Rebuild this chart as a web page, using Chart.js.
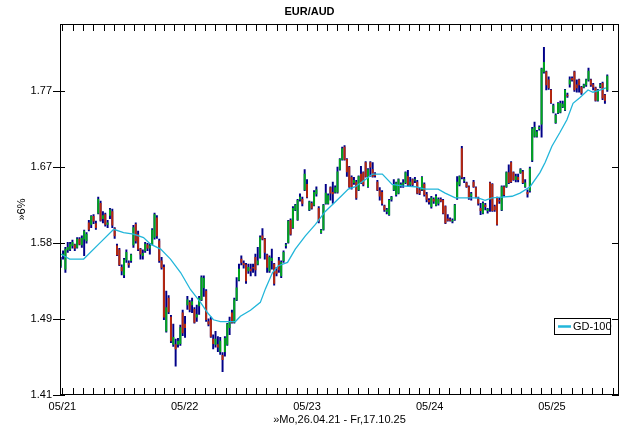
<!DOCTYPE html>
<html>
<head>
<meta charset="utf-8">
<script src="https://cdn.jsdelivr.net/npm/chart.js@4.4.1/dist/chart.umd.min.js"></script>
<style>
body { margin: 0; background: #fff; }
#wrap { width: 630px; height: 430px; }
</style>
</head>
<body>
<div id="wrap"><canvas id="fxChart" width="630" height="430"></canvas></div>
<script>
// weekly EUR/AUD bars, first week starts Mo 26.04.21
const opens = [1.552,1.565,1.548,1.571,1.572,1.576,1.577,1.574,1.584,1.577,1.584,1.582,1.604,1.602,1.612,1.603,1.616,1.628,1.609,1.614,
1.602,1.613,1.618,1.597,1.576,1.571,1.550,1.541,1.559,1.555,1.558,1.577,1.602,1.590,1.572,1.564,1.570,1.577,1.573,1.578,
1.586,1.610,1.582,1.558,1.550,1.476,1.514,1.492,1.461,1.461,1.461,1.462,1.497,1.484,1.506,1.509,1.506,1.501,1.492,1.505,
1.512,1.526,1.522,1.487,1.489,1.467,1.461,1.461,1.453,1.449,1.453,1.461,1.480,1.497,1.486,1.512,1.535,1.560,1.555,1.553,
1.546,1.548,1.550,1.562,1.554,1.562,1.588,1.584,1.565,1.546,1.558,1.554,1.546,1.558,1.540,1.558,1.576,1.580,1.607,1.598,
1.620,1.608,1.633,1.633,1.645,1.652,1.620,1.628,1.626,1.640,1.622,1.592,1.596,1.628,1.628,1.648,1.642,1.642,1.642,1.671,
1.684,1.700,1.684,1.674,1.661,1.654,1.655,1.645,1.665,1.667,1.680,1.649,1.680,1.671,1.665,1.655,1.644,1.642,1.625,1.618,
1.614,1.633,1.645,1.639,1.641,1.650,1.652,1.654,1.662,1.652,1.658,1.657,1.655,1.645,1.645,1.652,1.639,1.632,1.624,1.633,
1.626,1.628,1.633,1.632,1.624,1.609,1.608,1.606,1.608,1.635,1.652,1.698,1.657,1.654,1.649,1.637,1.655,1.648,1.633,1.622,
1.616,1.626,1.619,1.654,1.652,1.624,1.635,1.632,1.620,1.649,1.649,1.667,1.680,1.667,1.658,1.661,1.667,1.668,1.649,1.642,
1.644,1.683,1.714,1.714,1.724,1.730,1.801,1.801,1.790,1.776,1.746,1.732,1.745,1.746,1.753,1.749,1.769,1.784,1.792,1.801,
1.783,1.790,1.780,1.780,1.783,1.790,1.790,1.783,1.779,1.762,1.781,1.785,1.769,1.776];
const highs = [1.562,1.570,1.574,1.580,1.580,1.583,1.578,1.586,1.586,1.588,1.595,1.592,1.607,1.613,1.614,1.606,1.636,1.631,1.618,1.616,
1.607,1.622,1.621,1.598,1.578,1.573,1.553,1.561,1.571,1.558,1.566,1.601,1.604,1.594,1.573,1.571,1.580,1.579,1.579,1.597,
1.616,1.613,1.584,1.562,1.553,1.522,1.517,1.494,1.484,1.467,1.468,1.483,1.500,1.493,1.516,1.511,1.514,1.503,1.506,1.516,
1.540,1.540,1.524,1.490,1.492,1.472,1.476,1.470,1.469,1.452,1.470,1.485,1.492,1.500,1.514,1.538,1.554,1.564,1.558,1.555,
1.554,1.554,1.554,1.566,1.574,1.588,1.597,1.585,1.566,1.564,1.572,1.555,1.550,1.562,1.558,1.570,1.579,1.607,1.609,1.624,
1.627,1.633,1.640,1.636,1.671,1.658,1.631,1.630,1.644,1.649,1.624,1.596,1.627,1.652,1.640,1.649,1.655,1.650,1.674,1.685,
1.700,1.702,1.685,1.675,1.663,1.661,1.657,1.663,1.675,1.668,1.681,1.672,1.681,1.680,1.667,1.657,1.648,1.644,1.626,1.622,
1.633,1.637,1.658,1.655,1.659,1.654,1.658,1.668,1.670,1.661,1.659,1.661,1.657,1.648,1.662,1.654,1.642,1.634,1.637,1.635,
1.639,1.635,1.635,1.633,1.625,1.614,1.610,1.609,1.627,1.662,1.663,1.701,1.661,1.655,1.650,1.642,1.657,1.649,1.636,1.628,
1.630,1.628,1.622,1.655,1.653,1.626,1.636,1.635,1.650,1.650,1.668,1.677,1.681,1.668,1.665,1.665,1.672,1.670,1.658,1.645,
1.674,1.726,1.733,1.722,1.728,1.806,1.835,1.802,1.794,1.777,1.757,1.744,1.759,1.761,1.761,1.777,1.772,1.794,1.794,1.802,
1.790,1.791,1.781,1.784,1.791,1.806,1.791,1.785,1.780,1.777,1.785,1.787,1.770,1.797];
const lows = [1.550,1.560,1.544,1.568,1.570,1.573,1.570,1.573,1.577,1.574,1.564,1.579,1.594,1.598,1.603,1.596,1.615,1.606,1.604,1.600,
1.598,1.609,1.598,1.585,1.564,1.552,1.541,1.538,1.556,1.550,1.556,1.574,1.579,1.570,1.560,1.560,1.568,1.570,1.566,1.577,
1.584,1.585,1.556,1.548,1.489,1.475,1.496,1.463,1.459,1.437,1.458,1.460,1.471,1.469,1.501,1.498,1.497,1.485,1.487,1.495,
1.511,1.516,1.487,1.482,1.469,1.456,1.458,1.453,1.450,1.431,1.448,1.460,1.472,1.485,1.485,1.511,1.534,1.553,1.549,1.531,
1.543,1.540,1.544,1.540,1.553,1.561,1.583,1.560,1.544,1.544,1.548,1.529,1.540,1.544,1.538,1.556,1.573,1.579,1.589,1.597,
1.619,1.607,1.631,1.625,1.644,1.635,1.619,1.621,1.625,1.637,1.604,1.591,1.595,1.627,1.627,1.632,1.628,1.641,1.641,1.670,
1.683,1.683,1.662,1.648,1.646,1.652,1.633,1.644,1.653,1.650,1.661,1.648,1.662,1.661,1.661,1.644,1.632,1.626,1.618,1.615,
1.613,1.631,1.644,1.637,1.640,1.648,1.648,1.653,1.650,1.650,1.650,1.654,1.640,1.639,1.644,1.637,1.630,1.627,1.622,1.628,
1.625,1.626,1.630,1.615,1.603,1.606,1.606,1.604,1.607,1.633,1.650,1.659,1.654,1.648,1.633,1.632,1.648,1.635,1.626,1.614,
1.615,1.620,1.616,1.618,1.618,1.618,1.601,1.628,1.619,1.637,1.648,1.653,1.654,1.657,1.655,1.655,1.666,1.653,1.648,1.636,
1.642,1.681,1.713,1.713,1.722,1.713,1.799,1.776,1.777,1.758,1.745,1.731,1.744,1.745,1.752,1.748,1.766,1.780,1.788,1.774,
1.773,1.773,1.770,1.779,1.781,1.788,1.781,1.776,1.761,1.761,1.779,1.763,1.758,1.774];
const closes = [1.559,1.566,1.572,1.574,1.578,1.580,1.573,1.584,1.578,1.585,1.594,1.590,1.596,1.612,1.606,1.598,1.633,1.607,1.613,1.602,
1.604,1.620,1.601,1.588,1.565,1.553,1.546,1.559,1.568,1.553,1.565,1.598,1.582,1.572,1.566,1.567,1.578,1.573,1.576,1.595,
1.614,1.588,1.558,1.550,1.492,1.503,1.498,1.465,1.469,1.456,1.465,1.480,1.474,1.480,1.512,1.501,1.510,1.486,1.495,1.514,
1.538,1.537,1.489,1.484,1.470,1.462,1.467,1.458,1.465,1.444,1.468,1.484,1.487,1.486,1.512,1.526,1.548,1.556,1.553,1.534,
1.550,1.546,1.549,1.547,1.558,1.586,1.584,1.568,1.550,1.562,1.561,1.531,1.543,1.547,1.556,1.568,1.577,1.606,1.590,1.622,
1.626,1.632,1.636,1.628,1.665,1.636,1.630,1.622,1.642,1.645,1.606,1.595,1.626,1.641,1.638,1.641,1.640,1.648,1.668,1.684,
1.698,1.684,1.668,1.649,1.649,1.657,1.635,1.662,1.654,1.652,1.662,1.671,1.674,1.662,1.663,1.645,1.637,1.628,1.620,1.620,
1.632,1.636,1.652,1.654,1.658,1.652,1.654,1.667,1.652,1.655,1.652,1.658,1.641,1.641,1.661,1.639,1.633,1.630,1.635,1.631,
1.637,1.633,1.631,1.616,1.604,1.607,1.607,1.607,1.626,1.655,1.662,1.661,1.658,1.649,1.635,1.640,1.649,1.636,1.628,1.619,
1.628,1.624,1.621,1.633,1.619,1.620,1.602,1.631,1.649,1.639,1.667,1.654,1.655,1.658,1.662,1.658,1.671,1.654,1.654,1.640,
1.672,1.724,1.726,1.720,1.726,1.805,1.814,1.783,1.779,1.759,1.755,1.742,1.758,1.758,1.757,1.776,1.768,1.790,1.790,1.776,
1.779,1.783,1.772,1.783,1.790,1.802,1.783,1.780,1.762,1.776,1.783,1.765,1.762,1.795];

// GD-100 (week index, price)
const maWeeks = [0,3.8,9.8,16.2,22.6,26.8,31.1,35.3,38.3,42.6,46.8,51.1,55.3,59.6,62.6,65.1,68.1,74.5,76.6,80.9,
85.1,87.3,90.3,92.8,96.7,100,104.3,108.6,112.8,119.2,122.6,125.6,129.8,132.8,137.1,141.3,145.6,151.1,155.4,160.9,
163.9,168.2,177.9,180.9,183.9,188.2,192.4,195.8,200.1,204.3,206.5,209.4,212.8,215.8,218.4,221.4,224.8,226.9,229.9,232.4];
const maValues = [1.566,1.560,1.560,1.578,1.596,1.592,1.590,1.586,1.578,1.572,1.560,1.544,1.524,1.509,1.497,1.489,1.487,1.487,1.493,1.500,
1.509,1.525,1.544,1.552,1.556,1.572,1.588,1.602,1.618,1.636,1.646,1.649,1.658,1.665,1.665,1.652,1.650,1.649,1.646,1.646,
1.641,1.635,1.635,1.632,1.635,1.636,1.637,1.641,1.649,1.667,1.680,1.701,1.719,1.736,1.758,1.766,1.776,1.773,1.776,1.779];

const tickLabels = ['05/21', '05/22', '05/23', '05/24', '05/25'];
const yTickValues = [1.4055, 1.4898, 1.5792, 1.6739, 1.7744];

const startDay = Date.UTC(2021, 3, 26);
const weekMs = 7 * 86400000;
function weekOf(yr, mon) { return (Date.UTC(yr, mon, 1) - startDay) / weekMs; }

const xMin = -0.3, xMax = 238;
const tickWeeks = tickLabels.map(l => weekOf(2000 + Number(l.slice(3)), Number(l.slice(0, 2)) - 1));
const monthWeeks = [];
for (let k = 0; k < 60; k++) {
    const w = weekOf(2021, 4 + k);
    if (w > xMin && w < xMax) monthWeeks.push(w);
}

const font = { family: "'Liberation Sans', Arial, sans-serif", size: 11 };
const upColor = '#00a81c';
const downColor = '#b8280c';
const wickColor = '#000088';
const maColor = '#22b6da';

const bodies = opens.map((o, i) => ({ x: i, y: [Math.min(o, closes[i]), Math.max(o, closes[i])] }));
const ranges = lows.map((l, i) => ({ x: i, y: [l, highs[i]] }));
const bodyColors = opens.map((o, i) => closes[i] >= o ? upColor : downColor);

const frameTicks = {
    id: 'frameTicks',
    afterDraw(chart) {
        const ctx = chart.ctx;
        const a = chart.chartArea;
        const xs = chart.scales.x, ys = chart.scales.y;
        const L = Math.round(a.left), R = Math.round(a.right) - 1;
        const T = Math.round(a.top), B = Math.round(a.bottom) - 1;
        ctx.save();
        ctx.fillStyle = '#000';
        ctx.fillRect(L, T, R - L + 1, 1);
        ctx.fillRect(L, B, R - L + 1, 1);
        ctx.fillRect(L, T, 1, B - T + 1);
        ctx.fillRect(R, T, 1, B - T + 1);
        for (const v of yTickValues) {
            const py = Math.round(ys.getPixelForValue(v));
            ctx.fillRect(L, py, 5, 1);
            ctx.fillRect(R - 6, py, 7, 1);
        }
        // month ticks along top and bottom edge
        const span = R - L;
        monthWeeks.forEach(w => {
            const px = L + Math.round((w - xMin) / (xMax - xMin) * span);
            ctx.fillRect(px, T + 1, 1, 6);
            ctx.fillRect(px, B - 6, 1, 6);
        });

        // legend box
        const lx = R - 64, ly = 318;
        ctx.fillStyle = '#fff';
        ctx.fillRect(lx, ly, 57, 17);
        ctx.strokeStyle = '#000';
        ctx.lineWidth = 1;
        ctx.strokeRect(lx + 0.5, ly + 0.5, 56, 16);
        ctx.strokeStyle = maColor;
        ctx.lineWidth = 2.5;
        ctx.beginPath();
        ctx.moveTo(lx + 4, ly + 8.5); ctx.lineTo(lx + 17, ly + 8.5);
        ctx.stroke();
        ctx.fillStyle = '#000';
        ctx.font = `${font.size}px ${font.family}`;
        ctx.textBaseline = 'middle';
        ctx.fillText('GD-100', lx + 19, ly + 9);
        ctx.restore();
    }
};

new Chart(document.getElementById('fxChart').getContext('2d'), {
    type: 'bar',
    data: {
        datasets: [
            { type: 'line', label: 'GD-100', data: maWeeks.map((w, i) => ({ x: w, y: maValues[i] })),
              borderColor: maColor, borderWidth: 1.3, pointRadius: 0, tension: 0 },
            { label: 'body', data: bodies, backgroundColor: bodyColors, barThickness: 1.3, grouped: false },
            { label: 'range', data: ranges, backgroundColor: wickColor, barThickness: 1.3, grouped: false }
        ]
    },
    options: {
        responsive: false,
        animation: false,
        devicePixelRatio: 1,
        layout: { padding: { left: 0, right: 11, top: 0, bottom: 0 } },
        plugins: {
            legend: { display: false },
            tooltip: { enabled: false },
            title: { display: true, text: 'EUR/AUD', color: '#000', font: font, padding: { top: 5, bottom: 6 } }
        },
        scales: {
            x: {
                type: 'linear', min: xMin, max: xMax, offset: false,
                afterBuildTicks: s => { s.ticks = tickWeeks.map(v => ({ value: v })); },
                afterFit: s => { s.height = 35; },
                grid: { display: false, drawTicks: false, offset: false },
                border: { display: false },
                ticks: { autoSkip: false, maxRotation: 0, padding: 5, color: '#000', font: font,
                         callback: (v, i) => tickLabels[i] },
                title: { display: true, text: '»Mo,26.04.21 - Fr,17.10.25', color: '#000', font: font,
                         padding: { top: 0, bottom: 3 } }
            },
            y: {
                type: 'logarithmic', min: 1.4055, max: 1.868,
                afterBuildTicks: s => { s.ticks = yTickValues.map(v => ({ value: v })); },
                afterFit: s => { s.width = 60; },
                grid: { drawOnChartArea: false, drawTicks: true, tickLength: 7, color: '#000' },
                border: { display: false },
                ticks: { padding: 1, color: '#000', font: font, callback: v => v.toFixed(2) },
                title: { display: true, text: '»6%', color: '#000', font: font, padding: { top: 15, bottom: 0 } }
            }
        }
    },
    plugins: [frameTicks]
});
</script>
</body>
</html>
